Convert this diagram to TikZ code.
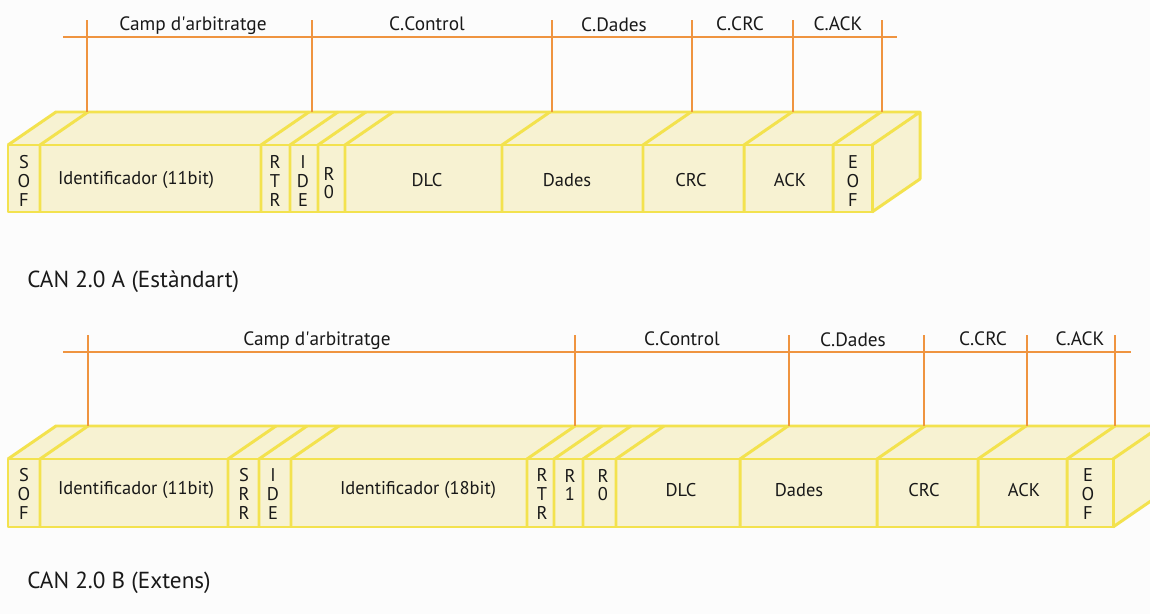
\documentclass[tikz,border=0pt]{standalone}
\usepackage{fontspec}
\setmainfont{PT Sans}
\definecolor{cellfill}{HTML}{F7F2D2}
\definecolor{framelin}{HTML}{F3E24E}
\definecolor{fieldlin}{HTML}{EF9440}
\definecolor{paper}{HTML}{FCFCFC}
\begin{document}
\begin{tikzpicture}[x=0.02cm,y=-0.02cm,
  frame/.style={draw=framelin,line width=1.7pt,line join=round},
  field/.style={draw=fieldlin,line width=1.1pt},
  bit/.style={font=\fontsize{10.5}{10.6}\selectfont,align=center,inner sep=0pt,text=black!90},
  lbl/.style={font=\fontsize{11}{12}\selectfont,anchor=base,inner sep=0pt,text=black!90},
  caption/.style={font=\fontsize{13.2}{15}\selectfont,anchor=base west,inner sep=0pt,text=black!90}]
\fill[paper] (0,0) rectangle (1150,614);
\useasboundingbox (0,0) rectangle (1150,614);

% CAN 2.0 A
\fill[cellfill] (8,145) -- (56,112) -- (920,112) -- (920,179) -- (872,212) -- (8,212) -- cycle;
\draw[frame] (8,145) rectangle (872,212);
\draw[frame] (8,145) -- ++(48,-33) -- (920,112) -- (920,179) -- (872,212) (872,145) -- (920,112);
\foreach \x in {40,261,290,318,345,502,643,744,833}
  \draw[frame] (\x,212) -- (\x,145) -- ++(48,-33);
\draw[field] (63,37) -- (897,37);
\foreach \x [count=\i] in {87,312,552,692,793,882} {
  \coordinate (a\i) at (\x,112);
  \draw[field] (a\i) -- ++(0,-92);
}
\node[lbl] (arbA) at (193,31) {Camp d\textquotesingle arbitratge};
\node[lbl] (ctlA) at (427,31) {C.Control};
\node[lbl] (datA) at (614,32) {C.Dades};
\node[lbl] (crcA) at (740,31) {C.CRC};
\node[lbl] (ackA) at (838,31) {C.ACK};
\node[bit] (sofA) at (24,181) {S\\O\\F};
\node[bit] (id11A) at (136,180) {Identificador (11bit)};
\node[bit] (rtrA) at (275,181) {R\\T\\R};
\node[bit] (ideA) at (303,181) {I\\D\\E};
\node[bit] (r0A) at (329,183) {R\\0};
\node[bit] (dlcA) at (427,180) {DLC};
\node[bit] (dadesA) at (567,180) {Dades};
\node[bit] (crcbA) at (691,180) {CRC};
\node[bit] (ackbA) at (790,180) {ACK};
\node[bit] (eofA) at (853,181) {E\\O\\F};
\node[caption] (capA) at (27,288) {CAN 2.0 A (Estàndart)};

% CAN 2.0 B
\fill[cellfill] (8,459) -- (56,426) -- (1161,426) -- (1161,494) -- (1113,527) -- (8,527) -- cycle;
\draw[frame] (8,459) rectangle (1113,527);
\draw[frame] (8,459) -- ++(48,-33) -- (1161,426) -- (1161,494) -- (1113,527) (1113,459) -- (1161,426);
\foreach \x in {40,228,259,291,527,554,583,616,740,877,978,1067}
  \draw[frame] (\x,527) -- (\x,459) -- ++(48,-33);
\draw[field] (63,352) -- (1131,352);
\foreach \x [count=\i] in {88,575,789,924,1027,1115} {
  \coordinate (b\i) at (\x,426);
  \draw[field] (b\i) -- ++(0,-91);
}
\node[lbl] (arbB) at (317,346) {Camp d\textquotesingle arbitratge};
\node[lbl] (ctlB) at (682,346) {C.Control};
\node[lbl] (datB) at (853,347) {C.Dades};
\node[lbl] (crcB) at (983,346) {C.CRC};
\node[lbl] (ackB) at (1080,346) {C.ACK};
\node[bit] (sofB) at (24,494) {S\\O\\F};
\node[bit] (id11B) at (136,490) {Identificador (11bit)};
\node[bit] (srrB) at (244,494) {S\\R\\R};
\node[bit] (ideB) at (273,494) {I\\D\\E};
\node[bit] (id18B) at (418,490) {Identificador (18bit)};
\node[bit] (rtrB) at (542,494) {R\\T\\R};
\node[bit] (r1B) at (570,485) {R\\1};
\node[bit] (r0B) at (603,485) {R\\0};
\node[bit] (dlcB) at (681,490) {DLC};
\node[bit] (dadesB) at (799,490) {Dades};
\node[bit] (crcbB) at (924,490) {CRC};
\node[bit] (ackbB) at (1024,490) {ACK};
\node[bit] (eofB) at (1088,494) {E\\O\\F};
\node[caption] (capB) at (27,589) {CAN 2.0 B (Extens)};
\end{tikzpicture}
\end{document}
